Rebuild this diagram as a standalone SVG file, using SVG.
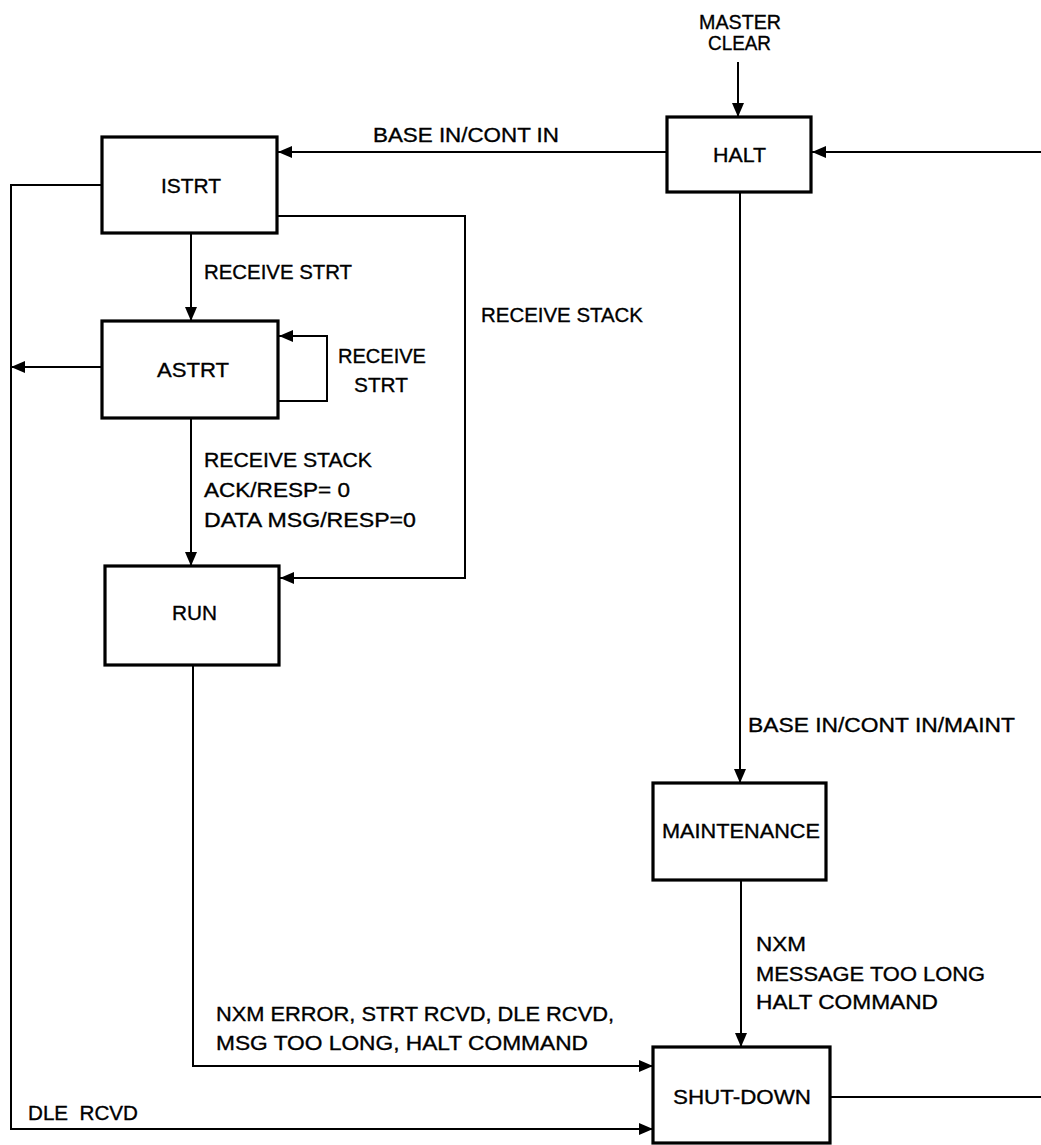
<svg xmlns="http://www.w3.org/2000/svg" width="1041" height="1145" viewBox="0 0 1041 1145">
<style>
.box{fill:#fff;stroke:#000;stroke-width:3.2}
.ln{fill:none;stroke:#000;stroke-width:2}
text{font-family:"Liberation Sans",Arial,sans-serif;font-size:21px;fill:#000;stroke:#000;stroke-width:0.35}
</style>
<defs>
<marker id="ah" markerUnits="userSpaceOnUse" markerWidth="15" markerHeight="12" refX="14" refY="6" orient="auto">
<path d="M0,0 L14,6 L0,12 Z" fill="#000"/>
</marker>
</defs>
<rect width="1041" height="1145" fill="#fff"/>
<g id="connectors">
<line class="ln" x1="738" y1="62" x2="738" y2="117" marker-end="url(#ah)"/>
<line class="ln" x1="667" y1="152" x2="278" y2="152" marker-end="url(#ah)"/>
<line class="ln" x1="1041" y1="152" x2="812" y2="152" marker-end="url(#ah)"/>
<line class="ln" x1="740" y1="192" x2="740" y2="783" marker-end="url(#ah)"/>
<line class="ln" x1="191" y1="233" x2="191" y2="321" marker-end="url(#ah)"/>
<path class="ln" d="M278,401 H327 V336 H279" marker-end="url(#ah)"/>
<path class="ln" d="M277,216 H465 V578 H280" marker-end="url(#ah)"/>
<line class="ln" x1="191" y1="418" x2="191" y2="566" marker-end="url(#ah)"/>
<path class="ln" d="M102,185 H11 V1129 H653" marker-end="url(#ah)"/>
<line class="ln" x1="102" y1="367" x2="11" y2="367" marker-end="url(#ah)"/>
<path class="ln" d="M193,665 V1066 H653" marker-end="url(#ah)"/>
<line class="ln" x1="741" y1="880" x2="741" y2="1047" marker-end="url(#ah)"/>
<line class="ln" x1="830" y1="1097" x2="1041" y2="1097"/>
</g>
<g id="labels">
<text x="699" y="29" textLength="82" lengthAdjust="spacingAndGlyphs">MASTER</text>
<text x="708" y="50" textLength="63" lengthAdjust="spacingAndGlyphs">CLEAR</text>
<text x="373" y="142" textLength="186" lengthAdjust="spacingAndGlyphs">BASE IN/CONT IN</text>
<text x="204" y="279" textLength="148" lengthAdjust="spacingAndGlyphs">RECEIVE STRT</text>
<text x="481" y="322" textLength="162" lengthAdjust="spacingAndGlyphs">RECEIVE STACK</text>
<text x="338" y="363" textLength="88" lengthAdjust="spacingAndGlyphs">RECEIVE</text>
<text x="354" y="392" textLength="54" lengthAdjust="spacingAndGlyphs">STRT</text>
<text x="204" y="467" textLength="168" lengthAdjust="spacingAndGlyphs">RECEIVE STACK</text>
<text x="204" y="497" textLength="146" lengthAdjust="spacingAndGlyphs">ACK/RESP= 0</text>
<text x="204" y="527" textLength="212" lengthAdjust="spacingAndGlyphs">DATA MSG/RESP=0</text>
<text x="748" y="732" textLength="267" lengthAdjust="spacingAndGlyphs">BASE IN/CONT IN/MAINT</text>
<text x="756" y="951" textLength="50" lengthAdjust="spacingAndGlyphs">NXM</text>
<text x="756" y="981" textLength="229" lengthAdjust="spacingAndGlyphs">MESSAGE TOO LONG</text>
<text x="756" y="1009" textLength="182" lengthAdjust="spacingAndGlyphs">HALT COMMAND</text>
<text x="216" y="1021" textLength="398" lengthAdjust="spacingAndGlyphs">NXM ERROR, STRT RCVD, DLE RCVD,</text>
<text x="216" y="1050" textLength="372" lengthAdjust="spacingAndGlyphs">MSG TOO LONG, HALT COMMAND</text>
<text x="28" y="1120" textLength="110" lengthAdjust="spacingAndGlyphs">DLE&#160; RCVD</text>
</g>
<g id="halt"><rect class="box" x="667" y="117" width="144" height="75"/><text x="713" y="162" textLength="53" lengthAdjust="spacingAndGlyphs">HALT</text></g>
<g id="istrt"><rect class="box" x="102" y="137" width="175" height="96"/><text x="161" y="193" textLength="60" lengthAdjust="spacingAndGlyphs">ISTRT</text></g>
<g id="astrt"><rect class="box" x="102" y="321" width="176" height="97"/><text x="157" y="377" textLength="72" lengthAdjust="spacingAndGlyphs">ASTRT</text></g>
<g id="run"><rect class="box" x="105" y="566" width="174" height="99"/><text x="172" y="620" textLength="45" lengthAdjust="spacingAndGlyphs">RUN</text></g>
<g id="maintenance"><rect class="box" x="653" y="783" width="173" height="97"/><text x="662" y="838" textLength="158" lengthAdjust="spacingAndGlyphs">MAINTENANCE</text></g>
<g id="shutdown"><rect class="box" x="653" y="1047" width="177" height="96"/><text x="673" y="1104" textLength="138" lengthAdjust="spacingAndGlyphs">SHUT-DOWN</text></g>
</svg>
